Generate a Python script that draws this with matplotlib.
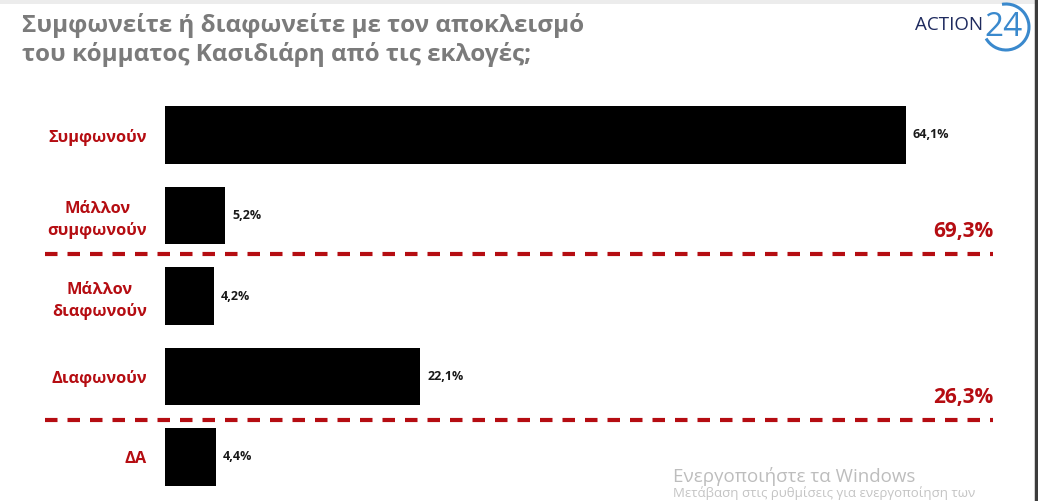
import matplotlib
matplotlib.use("Agg")
import matplotlib.pyplot as plt
from matplotlib.patches import Arc, Rectangle

plt.rcParams['font.family'] = ['Open Sans', 'DejaVu Sans']

categories = ["Συμφωνούν", "Μάλλον\nσυμφωνούν", "Μάλλον\nδιαφωνούν", "Διαφωνούν", "ΔΑ"]
values = [64.1, 5.2, 4.2, 22.1, 4.4]
value_labels = ["64,1%", "5,2%", "4,2%", "22,1%", "4,4%"]
group_labels = ["69,3%", "26,3%"]
group_splits = [1.48, 3.54]

title = "Συμφωνείτε ή διαφωνείτε με τον αποκλεισμό\nτου κόμματος Κασιδιάρη από τις εκλογές;"

RED = "#b50d12"
W, H = 1038, 501

fig = plt.figure(figsize=(W / 100, H / 100), dpi=100)
fig.patch.set_facecolor("white")

# overlay in pixel coords for decorations
deco = fig.add_axes([0, 0, 1, 1])
deco.set_xlim(0, W)
deco.set_ylim(H, 0)
deco.axis("off")
deco.add_patch(Rectangle((0, 0), W, 4, color="#ececec", lw=0))
deco.plot([1036, 1036], [0, H], color="#3c3c3c", lw=2.5)

deco.text(22, 40, title, fontsize=17.5, fontweight="bold", color="#7b7b7b",
          va="center", ha="left", linespacing=1.2)

# logo
deco.text(983, 25, "ACTION", fontsize=13.5, color="#1e2a5e", ha="right", va="center")
deco.text(1004, 27, "24", fontsize=24, color="#3a89cd", ha="center", va="center")
deco.add_patch(Arc((1006, 27), 46, 46, theta1=-100, theta2=150, color="#3a89cd", lw=2.2))

# windows watermark
deco.text(673, 477, "Ενεργοποιήστε τα Windows", fontsize=13.5, color="#bdbdbd",
          ha="left", va="center")
deco.text(673, 500, "Μετάβαση στις ρυθμίσεις για ενεργοποίηση των", fontsize=9.5,
          color="#c4c4c4", ha="left", va="bottom")

# bar axes: 0% at x=165px, 11.56 px per %
x0, scale = 165, 11.56
xmax = 75
top_px, bot_px = 94.75, 497.25
ax = fig.add_axes([x0 / W, (H - bot_px) / H, xmax * scale / W, (bot_px - top_px) / H])
ax.set_xlim(0, xmax)
ax.set_ylim(4.5, -0.5)
ax.patch.set_alpha(0)
for s in ax.spines.values():
    s.set_visible(False)
ax.set_xticks([])

ypos = list(range(len(categories)))
ax.barh(ypos, values, height=0.71, color="black")
for y, v, lab in zip(ypos, values, value_labels):
    ax.annotate(lab, (v, y), xytext=(7, 0), textcoords="offset pixels",
                fontsize=9, fontweight="bold", color="#1a1a1a", va="center", ha="left")

ax.set_yticks(ypos)
ax.set_yticklabels(categories)
ax.tick_params(axis="y", length=0, pad=13)
for t in ax.get_yticklabels():
    t.set_color(RED)
    t.set_fontweight("bold")
    t.set_fontsize(11.8)
    t.set_multialignment("center")
    t.set_linespacing(1.4)

x_left = (45 - x0) / scale
x_right = (993 - x0) / scale
for ys, glab in zip(group_splits, group_labels):
    ax.plot([x_left, x_right], [ys, ys], color=RED, lw=3, clip_on=False,
            dashes=(3.0, 2.4), solid_capstyle="butt", dash_capstyle="butt")
    ax.annotate(glab, (x_right, ys), xytext=(0, 12), textcoords="offset pixels",
                fontsize=15, fontweight="bold", color=RED, ha="right", va="bottom",
                annotation_clip=False)

fig.savefig("out.png", dpi=100)
